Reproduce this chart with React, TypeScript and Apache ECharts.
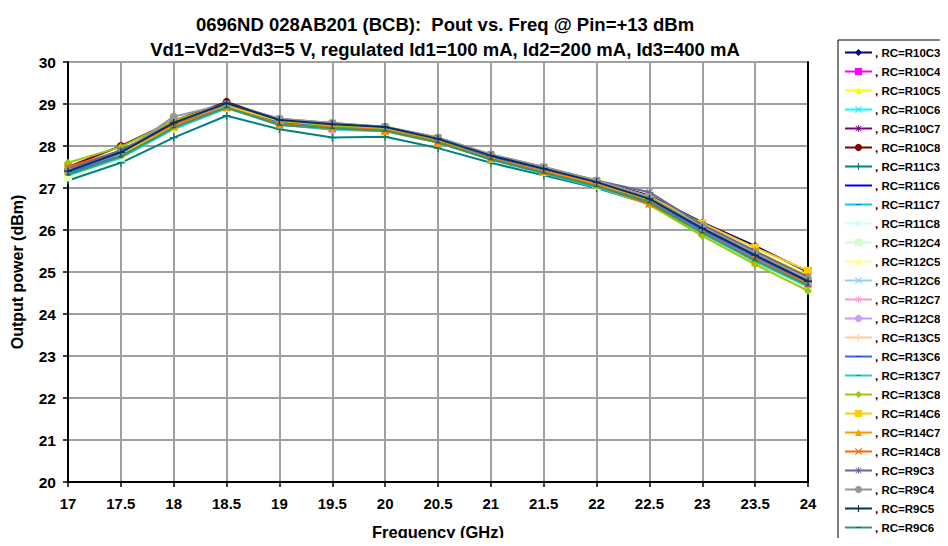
import React, { useEffect, useRef } from "react";
import * as echarts from "echarts";

const freqs = [17, 17.5, 18, 18.5, 19, 19.5, 20, 20.5, 21, 21.5, 22, 22.5, 23, 23.5, 24];

const seriesNames = [
  "R10C3", "R10C4", "R10C5", "R10C6", "R10C7", "R10C8", "R11C3", "R11C6", "R11C7",
  "R11C8", "R12C4", "R12C5", "R12C6", "R12C7", "R12C8", "R13C5", "R13C6", "R13C7",
  "R13C8", "R14C6", "R14C7", "R14C8", "R9C3", "R9C4", "R9C5", "R9C6",
];

const colors = [
  "#000080", "#FF00FF", "#FFFF00", "#00FFFF", "#800080", "#800000", "#008080", "#0000FF", "#00CCFF",
  "#CCFFFF", "#CCFFCC", "#FFFF99", "#99CCFF", "#FF99CC", "#CC99FF", "#FFCC99", "#3366FF", "#33CCCC",
  "#99CC00", "#FFCC00", "#FF9900", "#FF6600", "#666699", "#969696", "#003366", "#339966",
];

const markers = [
  "diamond", "rect", "triangle", "x", "star", "circle", "plus", "dash", "dash",
  "diamond", "rect", "triangle", "x", "star", "circle", "plus", "dash", "dash",
  "diamond", "rect", "triangle", "x", "star", "circle", "plus", "dash",
];

const R10C3 = [27.35, 27.8, 28.5, 28.98, 28.6, 28.5, 28.42, 28.18, 27.78, 27.47, 27.17, 26.82, 26.18, 25.62, 25.0];
const R10C4 = [27.45, 27.85, 28.5, 28.97, 28.58, 28.45, 28.4, 28.15, 27.75, 27.42, 27.1, 26.72, 25.98, 25.3, 24.7];
const R10C5 = [27.4, 27.82, 28.55, 28.98, 28.62, 28.52, 28.44, 28.18, 27.78, 27.45, 27.15, 26.78, 26.12, 25.5, 24.92];
const R10C6 = [27.42, 27.8, 28.48, 28.95, 28.55, 28.45, 28.4, 28.12, 27.7, 27.38, 27.05, 26.68, 25.95, 25.3, 24.7];
const R10C7 = [27.4, 27.88, 28.52, 29.02, 28.6, 28.5, 28.42, 28.15, 27.75, 27.42, 27.12, 26.72, 26.0, 25.35, 24.72];
const R10C8 = [27.5, 28.0, 28.6, 29.05, 28.62, 28.5, 28.44, 28.17, 27.76, 27.44, 27.12, 26.7, 26.02, 25.38, 24.78];
const R11C3 = [27.18, 27.6, 28.2, 28.72, 28.4, 28.2, 28.22, 27.95, 27.6, 27.3, 27.0, 26.62, 25.95, 25.3, 24.72];
const R11C6 = [27.3, 27.75, 28.45, 28.92, 28.55, 28.45, 28.38, 28.12, 27.72, 27.4, 27.08, 26.7, 26.02, 25.4, 24.8];
const R11C7 = [27.48, 27.88, 28.52, 28.95, 28.56, 28.44, 28.38, 28.1, 27.68, 27.35, 27.02, 26.62, 25.92, 25.25, 24.65];
const R11C8 = [27.4, 27.82, 28.48, 28.94, 28.55, 28.46, 28.4, 28.12, 27.72, 27.4, 27.08, 26.68, 25.98, 25.32, 24.72];
const R12C4 = [27.25, 27.72, 28.42, 28.9, 28.52, 28.42, 28.36, 28.1, 27.7, 27.38, 27.05, 26.65, 25.92, 25.22, 24.62];
const R12C5 = [27.3, 27.78, 28.46, 28.93, 28.55, 28.46, 28.4, 28.14, 27.74, 27.42, 27.1, 26.72, 26.05, 25.42, 24.85];
const R12C6 = [27.38, 27.8, 28.5, 28.96, 28.57, 28.47, 28.41, 28.14, 27.74, 27.42, 27.1, 26.7, 26.0, 25.35, 24.75];
const R12C7 = [27.42, 27.84, 28.5, 28.97, 28.56, 28.44, 28.38, 28.12, 27.72, 27.4, 27.08, 26.7, 25.98, 25.32, 24.72];
const R12C8 = [27.45, 27.86, 28.55, 28.98, 28.52, 28.38, 28.36, 28.12, 27.72, 27.4, 27.08, 26.68, 25.96, 25.3, 24.7];
const R13C5 = [27.4, 27.82, 28.5, 28.96, 28.58, 28.48, 28.42, 28.16, 27.76, 27.44, 27.12, 26.74, 26.06, 25.42, 24.82];
const R13C6 = [27.35, 27.78, 28.47, 28.94, 28.56, 28.46, 28.4, 28.13, 27.73, 27.41, 27.09, 26.7, 26.0, 25.36, 24.76];
const R13C7 = [27.3, 27.72, 28.4, 28.9, 28.5, 28.4, 28.35, 28.08, 27.68, 27.35, 27.02, 26.62, 25.92, 25.25, 24.65];
const R13C8 = [27.6, 27.98, 28.6, 29.0, 28.6, 28.48, 28.4, 28.12, 27.7, 27.38, 27.05, 26.6, 25.86, 25.18, 24.55];
const R14C6 = [27.45, 27.82, 28.45, 28.95, 28.6, 28.52, 28.44, 28.18, 27.78, 27.48, 27.16, 26.8, 26.16, 25.58, 25.03];
const R14C7 = [27.48, 27.85, 28.48, 28.92, 28.52, 28.42, 28.36, 28.08, 27.7, 27.4, 27.1, 26.72, 26.06, 25.45, 24.9];
const R14C8 = [27.5, 27.88, 28.52, 28.92, 28.52, 28.44, 28.38, 28.1, 27.7, 27.38, 27.06, 26.62, 25.95, 25.3, 24.72];
const R9C3 = [27.45, 27.9, 28.55, 29.0, 28.65, 28.55, 28.46, 28.2, 27.8, 27.5, 27.18, 26.9, 26.12, 25.5, 24.88];
const R9C4 = [27.42, 27.82, 28.7, 29.0, 28.65, 28.55, 28.45, 28.2, 27.8, 27.5, 27.18, 26.78, 26.08, 25.45, 24.82];
const R9C5 = [27.4, 27.85, 28.55, 29.02, 28.62, 28.52, 28.45, 28.17, 27.77, 27.46, 27.14, 26.74, 26.04, 25.4, 24.78];
const R9C6 = [27.32, 27.75, 28.44, 28.92, 28.5, 28.42, 28.36, 28.08, 27.68, 27.36, 27.04, 26.66, 25.94, 25.28, 24.68];

const seriesValues = [
  R10C3, R10C4, R10C5, R10C6, R10C7, R10C8, R11C3, R11C6, R11C7, R11C8, R12C4, R12C5, R12C6,
  R12C7, R12C8, R13C5, R13C6, R13C7, R13C8, R14C6, R14C7, R14C8, R9C3, R9C4, R9C5, R9C6,
];

const yTicks = [20, 30, 1];

const symbolPaths: Record<string, string> = {
  diamond: "diamond",
  rect: "rect",
  triangle: "triangle",
  circle: "circle",
  plus: "path://M4.2,0H5.8V4.2H10V5.8H5.8V10H4.2V5.8H0V4.2H4.2Z",
  x: "path://M1.1,0L5,3.9L8.9,0L10,1.1L6.1,5L10,8.9L8.9,10L5,6.1L1.1,10L0,8.9L3.9,5L0,1.1Z",
  star: "path://M4.4,0H5.6V3.6L8.5,0.7L9.3,1.5L6.4,4.4H10V5.6H6.4L9.3,8.5L8.5,9.3L5.6,6.4V10H4.4V6.4L1.5,9.3L0.7,8.5L3.6,5.6H0V4.4H3.6L0.7,1.5L1.5,0.7L4.4,3.6Z",
  dash: "path://M0,0L0.01,0L0,0.01Z M2,4.2H8V5.8H2Z M10,10L9.99,10L10,9.99Z",
};

const FONT = "'Liberation Sans', Arial, sans-serif";

export default function App() {
  const ref = useRef<HTMLDivElement>(null);
  useEffect(() => {
    if (!ref.current) return;
    const chart = echarts.init(ref.current, undefined, { renderer: "svg" });
    const series = seriesNames.map((n, i) => ({
      name: ", RC=" + n,
      type: "line",
      data: freqs.map((f, j) => [f, seriesValues[i][j]]),
      symbol: symbolPaths[markers[i]],
      symbolSize: 8,
      lineStyle: { color: colors[i], width: 2 },
      itemStyle: { color: markers[i] === "dash" ? "#000" : colors[i], opacity: markers[i] === "dash" ? 0.35 : 1, borderWidth: 0 },
      color: colors[i],
      z: 2 + i * 0.01,
    }));
    chart.setOption({
      animation: false,
      backgroundColor: "#fff",
      title: {
        text: "0696ND 028AB201 (BCB):  Pout vs. Freq @ Pin=+13 dBm\nVd1=Vd2=Vd3=5 V, regulated Id1=100 mA, Id2=200 mA, Id3=400 mA",
        left: 440,
        textAlign: "center",
        top: 7,
        textStyle: { fontFamily: FONT, fontWeight: "bold", fontSize: 18.5, lineHeight: 25, color: "#000" },
      },
      grid: { left: 68, right: 140, top: 62, bottom: 64, containLabel: false, outerBoundsMode: "none" },
      xAxis: {
        type: "value",
        min: 17,
        max: 24,
        interval: 0.5,
        name: "Frequency (GHz)",
        nameLocation: "middle",
        nameGap: 41,
        nameTextStyle: { fontFamily: FONT, fontWeight: "bold", fontSize: 16.5, color: "#000" },
        axisLine: { lineStyle: { color: "#000", width: 2 } },
        axisTick: { show: true, length: 5, lineStyle: { color: "#000", width: 1.5 } },
        axisLabel: { fontFamily: FONT, fontWeight: "bold", fontSize: 15, color: "#000", margin: 14 },
        splitLine: { show: true, lineStyle: { color: "#A0A0A0", width: 2 } },
      },
      yAxis: [
        {
          type: "value",
          min: yTicks[0],
          max: yTicks[1],
          interval: yTicks[2],
          name: "Output power (dBm)",
          nameLocation: "middle",
          nameGap: 43,
          nameTextStyle: { fontFamily: FONT, fontWeight: "bold", fontSize: 16, color: "#000" },
          axisLine: { show: true, lineStyle: { color: "#000", width: 2 } },
          axisTick: { show: true, length: 5, lineStyle: { color: "#000", width: 1.5 } },
          axisLabel: { fontFamily: FONT, fontWeight: "bold", fontSize: 15.5, color: "#000", margin: 12 },
          splitLine: { show: true, lineStyle: { color: "#A0A0A0", width: 2 } },
        },
        {
          type: "value",
          position: "right",
          min: yTicks[0],
          max: yTicks[1],
          interval: yTicks[2],
          axisLine: { show: true, lineStyle: { color: "#000", width: 2 } },
          axisTick: { show: false },
          axisLabel: { show: false },
          splitLine: { show: false },
        },
      ],
      graphic: [
        { type: "rect", shape: { x: 840, y: 42, width: 107, height: 520 }, style: { fill: "#000" }, z: 0 },
        { type: "rect", shape: { x: 838, y: 40, width: 107, height: 520 }, style: { fill: "#fff", stroke: "#000", lineWidth: 1 }, z: 1 },
      ],
      legend: {
        orient: "vertical",
        left: 844,
        top: 46,
        itemWidth: 27,
        itemHeight: 9,
        itemGap: 6,
        padding: 0,
        z: 5,
        textStyle: { fontFamily: FONT, fontWeight: "bold", fontSize: 11.5, color: "#000", lineHeight: 13, padding: [0, 0, 0, -2] },
        data: seriesNames.map((n) => ", RC=" + n),
      },
      series,
    });
    return () => chart.dispose();
  }, []);
  return <div ref={ref} style={{ width: 948, height: 546, margin: -8 }} />;
}
